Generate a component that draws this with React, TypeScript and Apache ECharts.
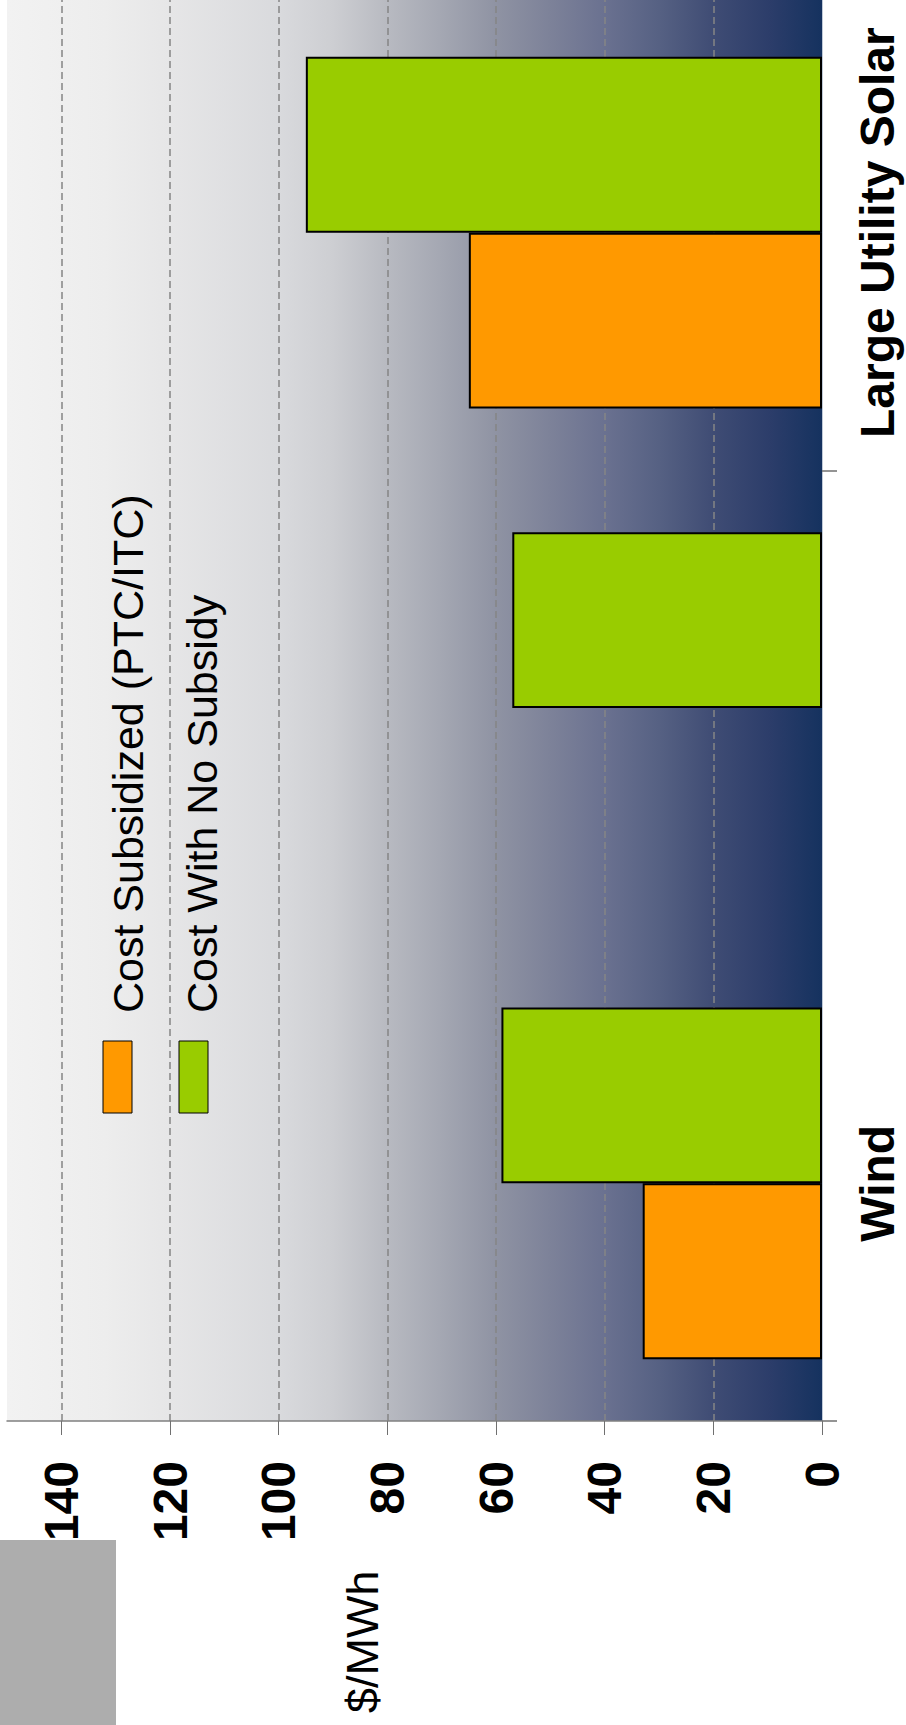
import React, { useEffect, useRef } from 'react';
import * as echarts from 'echarts';

const categories = ['Wind', 'Natural Gas CC', 'Large Utility Solar'];
const costSubsidized = [33, null, 65];
const costNoSubsidy = [59, 57, 95];
const valueTicks = [0, 20, 40, 60, 80, 100, 120, 140];
const legendLabels = ['Cost Subsidized (PTC/ITC)', 'Cost With No Subsidy'];
const unitLabel = '$/MWh';

const ORANGE = '#ff9900';
const GREEN = '#99cc00';
const FONT = '"Liberation Sans", Arial, Helvetica, sans-serif';

export default function App() {
  const ref = useRef<HTMLDivElement>(null);
  useEffect(() => {
    document.body.style.margin = '0';
    const chart = echarts.init(ref.current as HTMLDivElement, null, { renderer: 'svg' });
    const gradient = new echarts.graphic.LinearGradient(0, 0, 1, 0, [
      { offset: 0, color: '#f2f2f2' },
      { offset: 0.12, color: '#ededed' },
      { offset: 0.2, color: '#e6e6e7' },
      { offset: 0.333, color: '#d9dadd' },
      { offset: 0.4, color: '#cdced2' },
      { offset: 0.466, color: '#b8bac1' },
      { offset: 0.53, color: '#a5a8b3' },
      { offset: 0.6, color: '#8f93a3' },
      { offset: 0.666, color: '#7d8299' },
      { offset: 0.734, color: '#6a7190' },
      { offset: 0.8, color: '#566183' },
      { offset: 0.867, color: '#3f4c74' },
      { offset: 0.936, color: '#2c3d6a' },
      { offset: 1, color: '#15325f' },
    ]);
    chart.setOption({
      animation: false,
      textStyle: { fontFamily: FONT },
      grid: {
        left: 7,
        right: 84,
        top: -5,
        bottom: 304,
        show: true,
        borderWidth: 0,
        backgroundColor: gradient,
        containLabel: false,
        outerBoundsMode: 'none',
      },
      xAxis: {
        type: 'value',
        inverse: true,
        position: 'bottom',
        min: 0,
        max: 150,
        interval: 10,
        axisLine: { show: true, lineStyle: { color: '#808080', width: 1.5 } },
        axisTick: {
          show: true,
          length: 14,
          customValues: valueTicks,
          lineStyle: { color: '#707070', width: 1 },
        },
        axisLabel: {
          customValues: valueTicks,
          rotate: 90,
          margin: 40,
          fontSize: 48,
          fontWeight: 'bold',
          color: '#000',
          fontFamily: FONT,
        },
        splitLine: {
          show: true,
          customValues: valueTicks,
          showMinLine: false,
          lineStyle: { color: '#858585', width: 1.5, type: [7, 4] },
        },
      },
      yAxis: {
        type: 'category',
        position: 'right',
        data: categories,
        axisLine: { show: true, lineStyle: { color: '#c0cad8', width: 1 } },
        axisTick: { show: true, length: 15, lineStyle: { color: '#707070', width: 1.5 } },
        axisLabel: {
          rotate: 90,
          margin: 31,
          fontSize: 48,
          fontWeight: 'bold',
          color: '#000',
          fontFamily: FONT,
        },
        splitLine: { show: false },
      },
      series: [
        {
          type: 'bar',
          name: legendLabels[1],
          data: costNoSubsidy,
          barGap: '0%',
          barCategoryGap: '26%',
          itemStyle: { color: GREEN, borderColor: '#000', borderWidth: 2 },
        },
        {
          type: 'bar',
          name: legendLabels[0],
          data: costSubsidized,
          barGap: '0%',
          barCategoryGap: '26%',
          itemStyle: { color: ORANGE, borderColor: '#000', borderWidth: 2 },
        },
      ],
      graphic: [
        {
          type: 'rect',
          z: 100,
          shape: { x: 103, y: 1041, width: 29, height: 72 },
          style: { fill: ORANGE, stroke: '#000', lineWidth: 1 },
        },
        {
          type: 'rect',
          z: 100,
          shape: { x: 179, y: 1041, width: 29, height: 72 },
          style: { fill: GREEN, stroke: '#000', lineWidth: 1 },
        },
        {
          type: 'text',
          z: 100,
          x: 127.5,
          y: 1013,
          rotation: Math.PI / 2,
          style: {
            text: legendLabels[0],
            fontSize: 43,
            fontFamily: FONT,
            fill: '#000',
            align: 'left',
            verticalAlign: 'middle',
            textAlign: 'left',
            textVerticalAlign: 'middle',
          },
        },
        {
          type: 'text',
          z: 100,
          x: 202,
          y: 1013,
          rotation: Math.PI / 2,
          style: {
            text: legendLabels[1],
            fontSize: 43,
            fontFamily: FONT,
            fill: '#000',
            align: 'left',
            verticalAlign: 'middle',
            textAlign: 'left',
            textVerticalAlign: 'middle',
          },
        },
        {
          type: 'rect',
          z: 100,
          shape: { x: 0, y: 1540, width: 906, height: 185 },
          style: { fill: '#ffffff' },
        },
        {
          type: 'rect',
          z: 101,
          shape: { x: 0, y: 1540, width: 116, height: 185 },
          style: { fill: '#adadad' },
        },
        {
          type: 'text',
          z: 101,
          x: 362,
          y: 1713,
          rotation: Math.PI / 2,
          style: {
            text: unitLabel,
            fontSize: 45,
            fontFamily: FONT,
            fill: '#000',
            align: 'left',
            verticalAlign: 'middle',
            textAlign: 'left',
            textVerticalAlign: 'middle',
          },
        },
      ],
    });
    return () => {
      chart.dispose();
    };
  }, []);
  return <div ref={ref} style={{ width: 906, height: 1725 }} />;
}
